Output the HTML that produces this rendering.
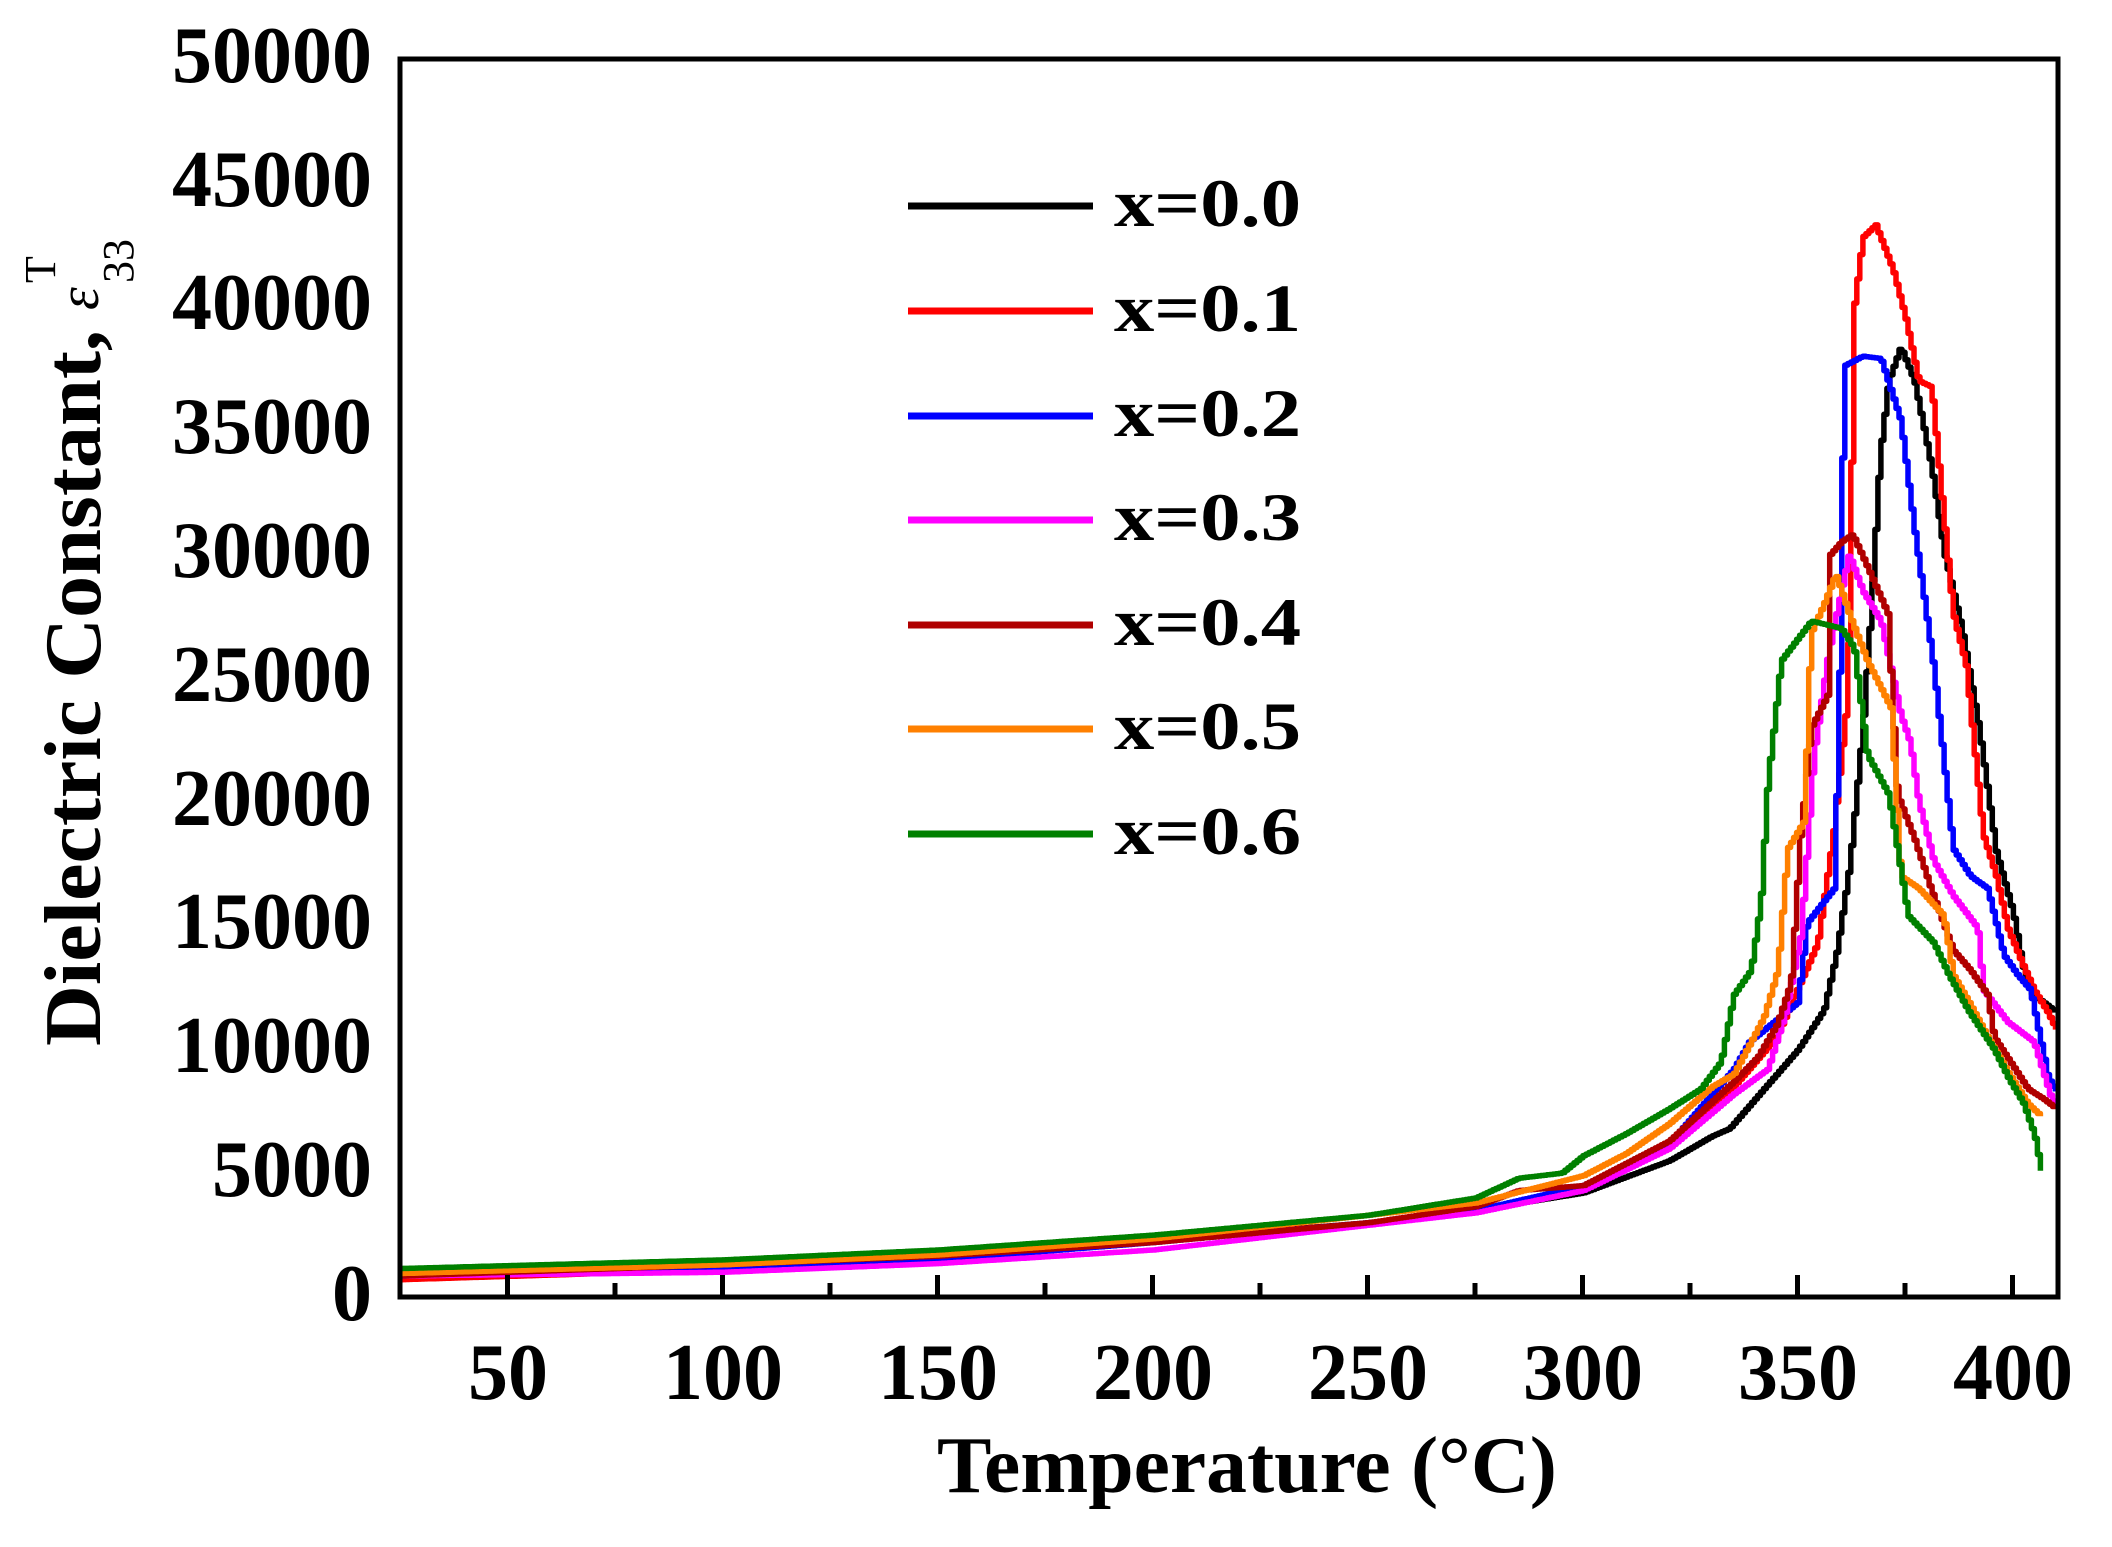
<!DOCTYPE html>
<html><head><meta charset="utf-8"><style>
html,body{margin:0;padding:0;background:#fff;}
svg{display:block;}
text{font-family:"Liberation Serif",serif;font-weight:bold;fill:#000;}
</style></head><body>
<svg id="s" width="2112" height="1547" viewBox="0 0 2112 1547" xmlns="http://www.w3.org/2000/svg">
<g id="curves"></g>
<rect x="400" y="59" width="1658" height="1238" fill="none" stroke="#000" stroke-width="5"/>
<g id="ticks" stroke="#000" stroke-width="5"></g>
<g font-size="80" text-anchor="end">
<text x="372" y="1320">0</text>
<text x="372" y="1196">5000</text>
<text x="372" y="1072">10000</text>
<text x="372" y="948">15000</text>
<text x="372" y="825">20000</text>
<text x="372" y="701">25000</text>
<text x="372" y="577">30000</text>
<text x="372" y="453">35000</text>
<text x="372" y="329">40000</text>
<text x="372" y="206">45000</text>
<text x="372" y="82">50000</text>
</g>
<g font-size="80" text-anchor="middle">
<text x="508" y="1399">50</text>
<text x="723" y="1399">100</text>
<text x="938" y="1399">150</text>
<text x="1153" y="1399">200</text>
<text x="1368" y="1399">250</text>
<text x="1583" y="1399">300</text>
<text x="1798" y="1399">350</text>
<text x="2013" y="1399">400</text>
</g>
<text x="937" y="1492" font-size="80" textLength="620" lengthAdjust="spacingAndGlyphs">Temperature (°C)</text>
<g transform="translate(100,1046) rotate(-90)">
<text x="0" y="0" font-size="80" textLength="716" lengthAdjust="spacingAndGlyphs">Dielectric Constant,</text>
<text x="736" y="-2" font-size="58" font-style="italic" style="font-weight:normal">ε</text>
<text x="763" y="33" font-size="44" style="font-weight:normal">33</text>
<text x="763" y="-45" font-size="44" style="font-weight:normal">T</text>
</g>
<g id="legend"></g>
</svg>
<script>
var X=function(t){return 400+(t-25)*4.3;}, Y=function(v){return 1297-v*0.02476;};
var ticks=document.getElementById('ticks'),h='';
for(var t=50;t<=400;t+=25){var x=X(t);h+='<line x1="'+x+'" y1="1297" x2="'+x+'" y2="'+(t%50==0?1275:1283)+'"/>';}
ticks.innerHTML=h;
var S=[
['#000',[[25,800],[100,1150],[150,1550],[200,2300],[250,3000],[275,3500],[300,4200],[320,5500],[330,6500],[334,6800],[340,8000],[350,10000],[356,11600],[359,14000],[362,17500],[365,23000],[367,28000],[369,34000],[371,37000],[373.8,38370],[377,37000],[381,33500],[384,30000],[388,27000],[392,23000],[396,18000],[400,15500],[402,13500],[404,12300],[410,11500]]],
['#ff0000',[[25,700],[100,1100],[150,1600],[200,2250],[250,3000],[275,3500],[300,4400],[320,6000],[335,8500],[345,10500],[350,12500],[354.5,14300],[358,18500],[361.5,24300],[363,40000],[365,42800],[368,43300],[372,41500],[375,39500],[378,37000],[381,36750],[383,33000],[386,27600],[389,25500],[393,18650],[396,17000],[398.7,14900],[402,13500],[404.8,12400],[408,11500],[410,10800]]],
['#0000ff',[[25,850],[100,1150],[150,1500],[200,2200],[250,3000],[275,3500],[300,4500],[320,6200],[335,9200],[338.6,10300],[345,11200],[349.9,11900],[352,15100],[358.3,16500],[359.5,24000],[360.6,37600],[365,38000],[369.2,37900],[373.8,35400],[377,31000],[381.5,25400],[386,18100],[390,17000],[394,16500],[397.8,13800],[401,13000],[404,12400],[408,8900],[410,8300]]],
['#ff00ff',[[25,850],[100,1000],[150,1350],[200,1900],[250,2900],[275,3400],[300,4300],[320,6000],[335,8200],[342.9,9200],[347,11500],[350.6,14600],[352,18000],[353.6,21900],[357,26000],[359.5,28100],[361.8,30000],[365,28500],[369.2,27300],[373.8,23500],[376,22400],[378,20000],[381.5,17600],[386,16200],[391.7,14900],[393,12400],[398.7,11100],[404.8,10300],[408.7,8100],[410,7700]]],
['#b00000',[[25,850],[100,1300],[150,1650],[200,2200],[250,3000],[275,3650],[285,4300],[300,4500],[320,6300],[335,8700],[340.6,9700],[345,11000],[348.3,12700],[350.6,18900],[353,23000],[356.8,24300],[357.5,30000],[360,30500],[362.6,30800],[366,29500],[370.8,27600],[373,20300],[377,18500],[380.8,16500],[386,14000],[390,13200],[394,12200],[395.5,10500],[400,9300],[403.4,8400],[407,8000],[410,7600]]],
['#ff8000',[[25,950],[100,1300],[150,1700],[200,2350],[250,3300],[275,3800],[300,4900],[310,5800],[320,7000],[330,8500],[335,9000],[342,11300],[345.2,13200],[347.5,18100],[351.3,19200],[352.9,26800],[356,28000],[358.7,29200],[362,27500],[366,25700],[371.5,23800],[373.8,17000],[378,16500],[383.8,15400],[386,13000],[390,11800],[394,10500],[399,9000],[403.4,7800],[406.5,7300]]],
['#008000',[[25,1150],[100,1500],[150,1900],[200,2500],[250,3300],[275,4000],[285,4800],[295,5000],[300,5700],[310,6600],[320,7600],[327.3,8400],[332,9500],[335,12200],[339,13200],[341.3,16000],[342.9,20800],[346,25700],[353,27300],[360,27000],[363,26200],[366,21900],[371,20300],[375.5,15400],[381.5,14300],[385,13000],[389.4,11600],[395.5,10000],[399,8800],[402.4,7800],[405,6500],[406.5,5100]]]
];
function interp(p,t){for(var i=1;i<p.length;i++){if(t<=p[i][0]){var a=p[i-1],b=p[i];return a[1]+(b[1]-a[1])*(t-a[0])/(b[0]-a[0]);}}return p[p.length-1][1];}
var g='';
S.forEach(function(s,k){var p=s[1],t0=p[0][0],t1=p[p.length-1][0],pts=[],prev=null;
for(var t=t0;t<=t1+0.001;t+=0.7){var v=interp(p,Math.min(t,t1));var x=X(t).toFixed(1),y=Y(v).toFixed(1);if(prev!==null)pts.push(x+','+prev);pts.push(x+','+y);prev=y;}
g+='<polyline fill="none" stroke="'+s[0]+'" stroke-width="5.5" stroke-linejoin="round" points="'+pts.join(' ')+'"/>';});
document.getElementById('curves').innerHTML=g;
var lg='',labs=['x=0.0','x=0.1','x=0.2','x=0.3','x=0.4','x=0.5','x=0.6'],ly=[206,311,416,520,625,729,834];
for(var i=0;i<7;i++){lg+='<line x1="908" x2="1093" y1="'+ly[i]+'" y2="'+ly[i]+'" stroke="'+S[i][0]+'" stroke-width="7"/>';
lg+='<text x="1114" y="'+(ly[i]+20)+'" font-size="68" textLength="187" lengthAdjust="spacingAndGlyphs">'+labs[i]+'</text>';}
document.getElementById('legend').innerHTML=lg;
</script>
</body></html>
